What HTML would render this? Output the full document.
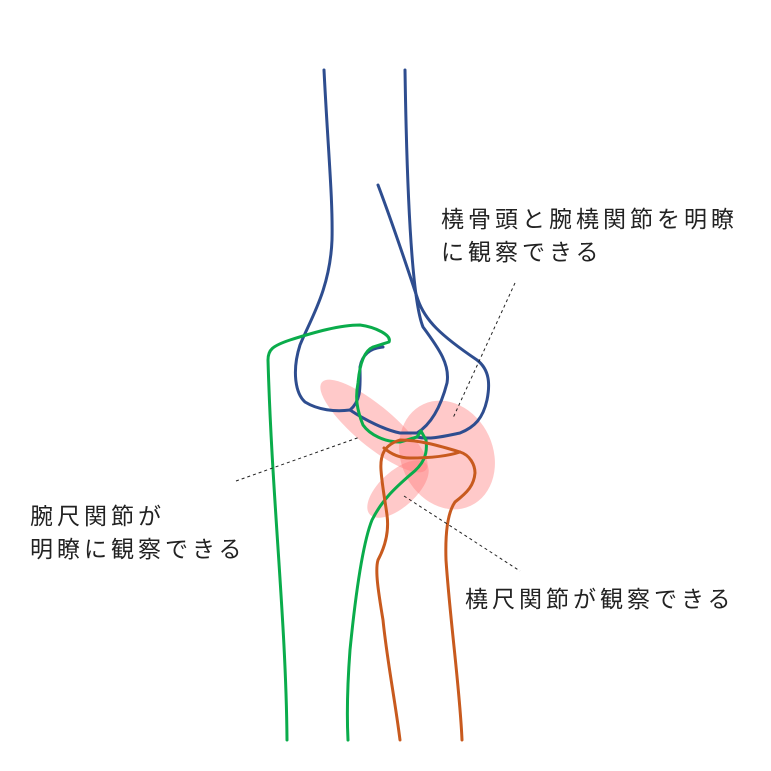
<!DOCTYPE html>
<html><head><meta charset="utf-8"><style>
body{margin:0;background:#fff;width:771px;height:771px;overflow:hidden}
svg{position:absolute;left:0;top:0}
.t{position:absolute;font-family:"Liberation Sans","Noto Sans CJK JP",sans-serif;font-size:23px;letter-spacing:4px;color:#222;line-height:33px;white-space:nowrap}
</style></head><body>
<svg width="771" height="771" viewBox="0 0 771 771">
<g fill="#f77" fill-opacity="0.4">
<ellipse cx="447" cy="455" rx="46" ry="56" transform="rotate(-25 447 455)"/>
<ellipse cx="374" cy="426" rx="68" ry="20" transform="rotate(40 374 426)"/>
<ellipse cx="398" cy="489" rx="38" ry="18" transform="rotate(-42 398 489)"/>
</g>
<g fill="none" stroke-width="3" stroke-linecap="round" stroke-linejoin="round">
<path stroke="#2e4d8f" d="M324 70 C328 150 333 200 332 240 C330 290 310 320 300 345 C292 370 295 393 305 402 C318 410 335 412 350 410 C365 420 385 430 400 433 L417 433 C430 425 440 410 447 383 C450 365 440 350 423 327 C412 300 407 200 405 70"/>
<path stroke="#2e4d8f" d="M350 410 C362 400 360 385 360 367 C362 355 370 348 383 347"/>
<path stroke="#2e4d8f" d="M378 185 C395 230 408 270 418 300 C425 320 440 335 477 360 C490 370 490 385 487 400 C483 418 475 427 460 433 C445 436 430 440 417 437"/>
<path stroke="#0aac4b" d="M287 740 C286 620 272 500 268 360 C268 350 272 346 290 340 C315 332 340 325 360 325 C375 327 392 335 389 342 L373 347 C366 350 360 360 358 383 C355 398 357 410 363 425 C370 435 385 442 400 442 L417 437 L421 431 L426 440 C428 455 423 465 410 475 C395 488 382 500 372 520 C362 545 355 600 350 650 C347 690 347 720 348 740"/>
<path stroke="#c85a1e" d="M400 740 C395 700 387 660 383 620 C378 590 375 570 378 560 C386 545 389 530 387 515 C385 500 382 485 381 470 C380 455 384 445 400 440 C420 440 440 446 460 452 C470 455 475 465 475 473 C474 485 468 492 455 502 C448 512 445 530 446 560 C450 620 460 690 462 740"/>
<path stroke="#c85a1e" d="M384 448 C392 455 400 458 410 458 C430 458 448 456 460 452"/>
</g>
<g stroke="#222" stroke-width="1" stroke-dasharray="3,3" fill="none">
<line x1="236" y1="481" x2="360" y2="437"/>
<line x1="515" y1="283" x2="453" y2="418"/>
<line x1="404" y1="496" x2="520" y2="571"/>
</g>
</svg>
<div class="t" style="left:441px;top:203px">橈骨頭と腕橈関節を明瞭<br>に観察できる</div>
<div class="t" style="left:30px;top:500px">腕尺関節が<br>明瞭に観察できる</div>
<div class="t" style="left:465px;top:583px">橈尺関節が観察できる</div>
</body></html>
